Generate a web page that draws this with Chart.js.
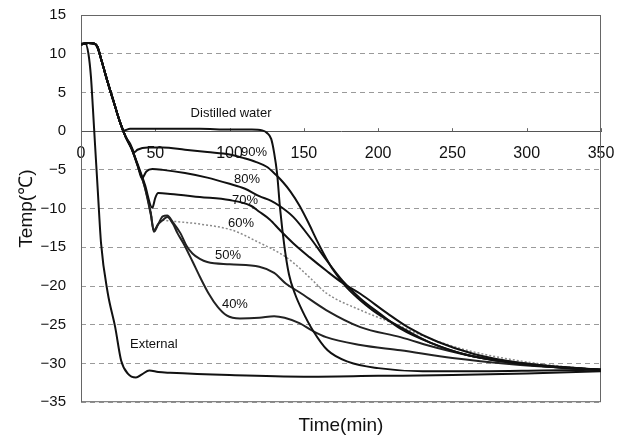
<!DOCTYPE html>
<html>
<head>
<meta charset="utf-8">
<script src="https://cdn.jsdelivr.net/npm/chart.js@4.4.0/dist/chart.umd.min.js"></script>
<style>
  html, body { margin: 0; padding: 0; background: #fff; }
  #wrap { width: 625px; height: 439px; }
</style>
</head>
<body>
<div id="wrap"><canvas id="myChartTemp"></canvas></div>
<script>
// Distilled water
const waterTime = [0,5,9,11,14,18,22,26,29,33,40,60,80,100,115,122,125,128,130,132,134,137,140,144,149,156,166,180,200,230,270,310,350];
const waterTemp = [11.2,11.4,11.3,10.9,9.0,6.3,3.8,1.3,0.1,0.3,0.3,0.3,0.3,0.2,0.2,0.1,-0.2,-1.0,-2.8,-5.5,-10.0,-15.0,-18.5,-21.0,-23.2,-25.7,-28.3,-29.8,-30.6,-31.0,-31.0,-30.9,-30.8];

// 90%
const p90Time = [0,5,9,11,14,18,22,26,30,33,36,38,45,55,70,85,100,110,118,125,131,136,141,147,153,159,165,170,178,186,199,215,235,260,290,320,350];
const p90Temp = [11.2,11.4,11.3,10.9,9.0,6.3,3.8,1.3,-0.7,-1.6,-2.7,-2.4,-2.1,-2.1,-2.4,-2.7,-3.0,-3.5,-4.0,-4.6,-5.6,-6.6,-7.8,-9.6,-11.8,-14.2,-16.4,-18.0,-20.0,-21.5,-23.5,-25.3,-27.3,-28.9,-29.9,-30.5,-30.8];

// 80%
const p80Time = [0,5,9,11,14,18,22,26,30,34,38,41,44,48,55,70,85,100,110,120,128,134,143,154,165,176,188,200,215,235,260,290,320,350];
const p80Temp = [11.2,11.4,11.3,10.9,9.0,6.3,3.8,1.3,-0.7,-2.3,-4.3,-6.1,-5.2,-4.9,-5.0,-5.4,-6.0,-6.8,-7.4,-8.4,-9.0,-9.7,-11.1,-13.7,-16.6,-19.3,-21.6,-23.4,-25.5,-27.3,-28.9,-29.9,-30.5,-30.8];

// 70%
const p70Time = [0,5,9,11,14,18,22,26,30,34,38,43,48,50,52,60,80,100,114,120,127,134,143,154,165,176,188,206,220,240,265,295,320,350];
const p70Temp = [11.2,11.4,11.3,10.9,9.0,6.3,3.8,1.3,-0.7,-2.2,-4.2,-6.9,-9.9,-8.6,-8.0,-8.1,-8.5,-8.9,-9.6,-10.4,-11.4,-12.8,-14.5,-16.3,-18.0,-19.6,-21.0,-23.5,-25.3,-27.2,-28.8,-29.9,-30.4,-30.8];

// 60%
const p60Time = [0,5,9,11,14,18,22,26,30,34,38,43,47,49,52,55,60,80,102,120,135,143,155,165,188,210,235,260,290,320,350];
const p60Temp = [11.2,11.4,11.3,10.9,9.0,6.3,3.8,1.3,-0.7,-2.2,-4.3,-7.0,-10.3,-12.8,-12.0,-11.5,-11.6,-12.0,-12.8,-14.4,-15.9,-17.0,-19.1,-20.9,-23.1,-24.8,-26.8,-28.3,-29.5,-30.3,-30.8];

// 50%
const p50Time = [0,5,9,11,14,18,22,26,30,34,38,43,47,49,52,55,58,62,67,71,75,80,85,100,120,130,138,147,165,188,215,240,270,300,325,350];
const p50Temp = [11.2,11.4,11.3,10.9,9.0,6.3,3.8,1.3,-0.7,-2.2,-4.4,-7.2,-10.6,-13.0,-12.0,-11.0,-10.9,-11.8,-13.2,-14.8,-15.8,-16.5,-16.9,-17.2,-17.5,-18.3,-19.7,-20.8,-23.1,-25.3,-26.6,-28.0,-29.3,-30.0,-30.5,-30.8];

// 40%
const p40Time = [0,5,9,11,14,18,22,26,30,34,38,43,47,49,52,55,58,62,65,69,75,80,86,92,98,107,120,130,137,147,156,165,188,215,250,290,320,350];
const p40Temp = [11.2,11.4,11.3,10.9,9.0,6.3,3.8,1.3,-0.7,-2.2,-4.4,-7.3,-10.8,-12.8,-12.0,-11.5,-11.1,-12.0,-13.2,-14.5,-16.8,-18.8,-21.0,-22.7,-23.8,-24.2,-24.1,-23.9,-24.1,-24.8,-25.8,-26.6,-27.6,-28.3,-29.3,-30.1,-30.5,-30.8];

// External
const extTime = [0,3,5,6.7,8,9.4,11.4,13.5,18,23,27,31.5,37,41,46,52,60,100,150,200,250,300,350];
const extTemp = [11.3,11.3,10.0,7.0,3.0,-1.6,-8.0,-14.5,-20.9,-25.3,-29.6,-31.3,-31.8,-31.4,-30.9,-31.1,-31.2,-31.5,-31.7,-31.6,-31.5,-31.3,-31.0];

// Rotulos dentro del grafico
const noteText = ["Distilled water", "90%", "80%", "70%", "60%", "50%", "40%", "External"];
const noteTime = [101, 116.4, 111.7, 110.4, 107.7, 99, 103.6, 49];
const noteTemp = [2.3, -2.7, -6.2, -8.9, -11.9, -16.1, -22.4, -27.5];

const FONT = "'Liberation Sans', Arial, sans-serif";
const NADA = "rgba(0,0,0,0)";

function puntos(tiempo, temp) {
  return tiempo.map(function (t, i) {
    return { x: t, y: temp[i] };
  });
}

function serie(label, tiempo, temp, color, ancho, dash) {
  return {
    label: label,
    data: puntos(tiempo, temp),
    borderColor: color,
    borderWidth: ancho,
    borderDash: dash || [],
    pointRadius: 0,
    fill: false,
    cubicInterpolationMode: "monotone",
  };
}

// Marco y rotulos
const marcoPlugin = {
  id: "marco",
  beforeDatasetsDraw(chart) {
    const { ctx, chartArea: a, scales } = chart;
    ctx.save();
    ctx.strokeStyle = "#666";
    ctx.lineWidth = 1;
    ctx.strokeRect(a.left + 0.5, a.top + 0.5, a.right - a.left - 1, a.bottom - a.top - 1);
    // marcas sobre el eje en y = 0
    const y0 = scales.y.getPixelForValue(0);
    scales.x.ticks.forEach(function (t) {
      const px = Math.round(scales.x.getPixelForValue(t.value)) + 0.5;
      ctx.beginPath();
      ctx.moveTo(px, y0);
      ctx.lineTo(px, y0 - 3);
      ctx.stroke();
    });
    ctx.restore();
  },
  afterDatasetsDraw(chart) {
    const { ctx, scales } = chart;
    ctx.save();
    ctx.fillStyle = "#111";
    ctx.font = "13px " + FONT;
    ctx.textAlign = "center";
    ctx.textBaseline = "middle";
    noteText.forEach(function (txt, i) {
      ctx.fillText(txt, scales.x.getPixelForValue(noteTime[i]), scales.y.getPixelForValue(noteTemp[i]));
    });
    ctx.restore();
  },
};

const ctxTemp = document.getElementById("myChartTemp").getContext("2d");

const myChartTemp = new Chart(ctxTemp, {
  type: "line",
  data: {
    datasets: [
      serie("Distilled water", waterTime, waterTemp, "#111", 2),
      serie("90%", p90Time, p90Temp, "#111", 2),
      serie("80%", p80Time, p80Temp, "#111", 2),
      serie("70%", p70Time, p70Temp, "#111", 2),
      serie("50%", p50Time, p50Temp, "#222", 2),
      serie("40%", p40Time, p40Temp, "#222", 2),
      serie("External", extTime, extTemp, "#111", 2),
      serie("60%", p60Time, p60Temp, "#8a8a8a", 1.5, [2, 2]),
    ],
  },
  options: {
    responsive: true,
    maintainAspectRatio: false,
    animation: false,
    layout: {
      padding: { left: 0, right: 24, top: 15, bottom: 0 },
    },
    plugins: {
      legend: { display: false },
      tooltip: { enabled: false },
      title: {
        display: true,
        text: "Time(min)",
        position: "bottom",
        fullSize: false,
        color: "#111",
        font: { family: FONT, size: 19, weight: "normal" },
        padding: { top: 12, bottom: 2 },
      },
    },
    scales: {
      x: {
        type: "linear",
        position: { y: 0 },
        min: 0,
        max: 350,
        grid: { display: true, color: NADA, drawTicks: true, tickLength: 11, tickColor: NADA },
        border: { display: true, color: "#555", width: 1 },
        ticks: {
          stepSize: 50,
          padding: 2,
          color: "#111",
          maxRotation: 0,
          font: { family: FONT, size: 16 },
        },
      },
      y: {
        min: -35,
        max: 15,
        grid: { color: "#9a9a9a", lineWidth: 1, drawTicks: true, tickLength: 10, tickColor: NADA },
        border: { display: false, dash: [5, 4] },
        afterFit: function (scale) {
          scale.width = 81;
        },
        ticks: {
          stepSize: 5,
          padding: 5,
          color: "#111",
          font: { family: FONT, size: 15 },
          callback: function (v) {
            return String(v).replace("-", "\u2212");
          },
        },
        title: {
          display: true,
          text: "Temp(\u2103)",
          color: "#111",
          font: { family: FONT, size: 19 },
          padding: { top: 15, bottom: 0 },
        },
      },
    },
  },
  plugins: [marcoPlugin],
});
</script>
</body>
</html>
